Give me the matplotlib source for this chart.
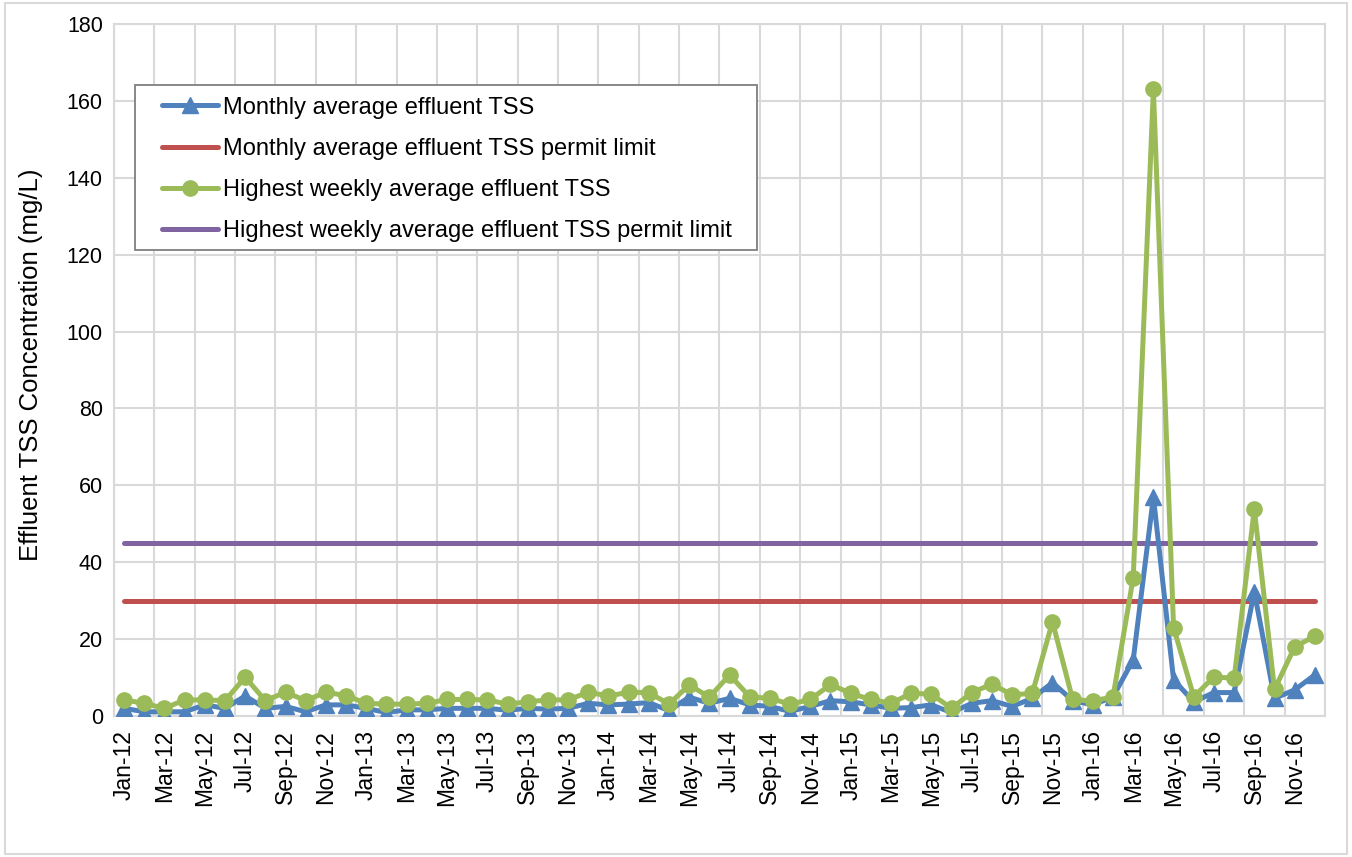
import matplotlib
matplotlib.use("Agg")
import matplotlib.pyplot as plt
from matplotlib.patches import Rectangle
import numpy as np

months = ["Jan", "Feb", "Mar", "Apr", "May", "Jun",
          "Jul", "Aug", "Sep", "Oct", "Nov", "Dec"]
years = ["12", "13", "14", "15", "16"]
categories = [f"{m}-{y}" for y in years for m in months]

monthly_tss = [
    2.0, 1.1, 1.1, 1.1, 2.9, 2.0, 5.2, 2.0, 2.5, 1.1, 2.9, 2.9,
    2.0, 0.9, 1.6, 1.6, 2.0, 2.0, 2.0, 1.5, 2.0, 1.8, 2.0, 3.3,
    2.9, 3.1, 3.5, 1.4, 4.9, 3.3, 4.6, 2.9, 2.5, 1.2, 2.5, 4.0,
    3.7, 2.9, 2.0, 2.2, 2.9, 0.9, 3.3, 4.0, 2.5, 4.6, 8.7, 4.0,
    2.9, 5.0, 14.6, 57.0, 9.4, 3.7, 6.1, 6.1, 32.3, 4.6, 6.8, 10.7,
]
weekly_max_tss = [
    4.2, 3.3, 2.0, 4.2, 4.2, 4.0, 10.1, 4.0, 6.2, 4.0, 6.2, 5.3,
    3.3, 3.1, 3.1, 3.3, 4.3, 4.3, 4.2, 3.1, 3.7, 4.2, 4.2, 6.2,
    5.2, 6.2, 6.1, 3.1, 8.1, 4.9, 10.7, 5.0, 4.6, 3.1, 4.3, 8.2,
    5.9, 4.3, 3.3, 5.9, 5.7, 2.0, 6.1, 8.3, 5.5, 5.9, 24.5, 4.3,
    3.9, 5.0, 36.0, 163.0, 23.0, 5.0, 10.2, 9.8, 53.8, 6.9, 18.0, 20.8,
]
monthly_limit = 30
weekly_limit = 45

labels = [
    "Monthly average effluent TSS",
    "Monthly average effluent TSS permit limit",
    "Highest weekly average effluent TSS",
    "Highest weekly average effluent TSS permit limit",
]

BLUE = "#4F81BD"
RED = "#C0504D"
GREEN = "#9BBB59"
PURPLE = "#8064A2"
GRID = "#D9D9D9"

plt.rcParams["font.family"] = ["Liberation Sans", "DejaVu Sans"]

fig = plt.figure(figsize=(13.52, 8.57), dpi=100)
ax = fig.add_axes([0.0843, 0.1645, 0.8957, 0.8075])

x = np.arange(len(categories))
lw = 3.6

ax.plot(x, monthly_tss, color=BLUE, lw=lw, marker="^", ms=11,
        solid_joinstyle="round", solid_capstyle="round",
        label=labels[0], zorder=4)
ax.plot([0, len(x) - 1], [monthly_limit] * 2, color=RED, lw=lw,
        solid_capstyle="round", label=labels[1], zorder=3)
ax.plot(x, weekly_max_tss, color=GREEN, lw=lw, marker="o", ms=11,
        solid_joinstyle="round", solid_capstyle="round",
        label=labels[2], zorder=5)
ax.plot([0, len(x) - 1], [weekly_limit] * 2, color=PURPLE, lw=lw,
        solid_capstyle="round", label=labels[3], zorder=3)

ax.set_xlim(-0.5, len(x) - 0.5)
ax.set_ylim(0, 180)
ax.set_yticks(np.arange(0, 181, 20))
ax.set_xticks(x[::2])
ax.set_xticklabels(categories[::2], rotation=90, fontsize=16.5)
ax.set_xticks(np.arange(-0.5, len(x), 2), minor=True)
ax.tick_params(axis="y", labelsize=15.5, length=0, pad=8)
ax.tick_params(axis="x", which="both", length=0, pad=10)

ax.grid(True, axis="y", color=GRID, lw=1.5, zorder=0)
ax.grid(True, axis="x", which="minor", color=GRID, lw=1.5, zorder=0)
ax.grid(False, axis="x", which="major")
for sp in ax.spines.values():
    sp.set_color(GRID)
    sp.set_linewidth(1.5)

ax.set_ylabel("Effluent TSS Concentration (mg/L)", fontsize=18.5)
ax.yaxis.set_label_coords(-0.0586, 0.507)

# legend box drawn as a plain white panel with a grey outline
ax.add_patch(Rectangle((0.0173, 0.673), 0.5137, 0.239,
                       transform=ax.transAxes, facecolor="white",
                       edgecolor="#7F7F7F", lw=1.3, zorder=6))
leg = ax.legend(loc="upper left", bbox_to_anchor=(0.0396, 0.895),
                fontsize=17, frameon=False, numpoints=1,
                handlelength=2.37, labelspacing=0.81, borderpad=0,
                handletextpad=0.2, borderaxespad=0)
leg.set_zorder(7)

fig.patches.append(Rectangle((0.004, 0.003), 0.992, 0.994,
                             transform=fig.transFigure, fill=False,
                             edgecolor=GRID, lw=1.5))

fig.savefig("out.png", dpi=100)
